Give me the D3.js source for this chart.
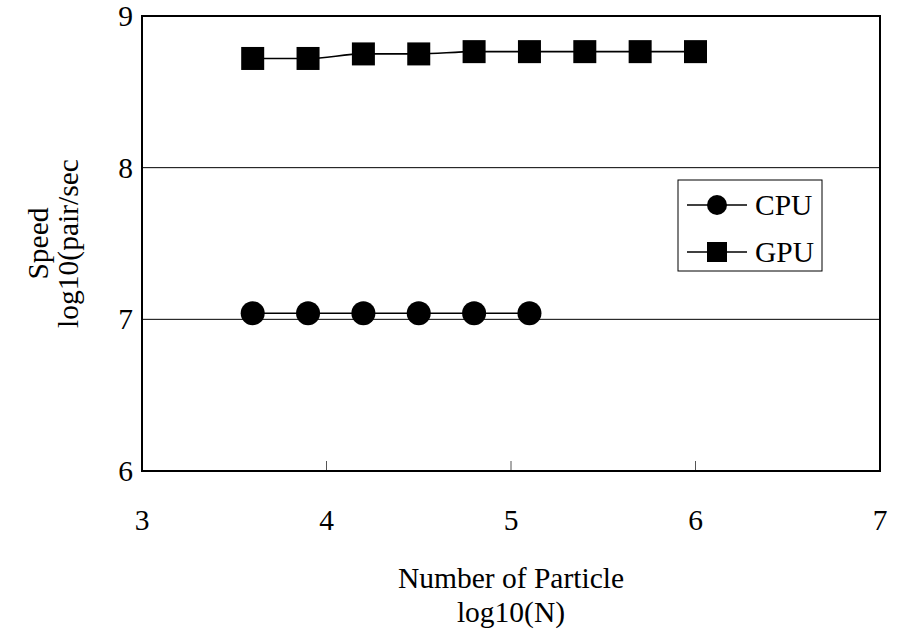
<!DOCTYPE html>
<html>
<head>
<meta charset="utf-8">
<script src="https://cdn.jsdelivr.net/npm/d3@7"></script>
<style>
  body { margin: 0; background: #fff; }
  svg { display: block; font-family: "Liberation Serif", "Times New Roman", serif; }
</style>
</head>
<body>
<svg id="chart" width="897" height="633"></svg>
<script>
// Data
const cpuX = [3.6, 3.9, 4.2, 4.5, 4.8, 5.1];
const cpuY = [7.04, 7.04, 7.04, 7.04, 7.04, 7.04];
const gpuX = [3.6, 3.9, 4.2, 4.5, 4.8, 5.1, 5.4, 5.7, 6.0];
const gpuY = [8.72, 8.72, 8.75, 8.75, 8.765, 8.765, 8.765, 8.765, 8.765];
const xTicks = [3, 4, 5, 6, 7];
const yTicks = [6, 7, 8, 9];
const seriesNames = ['CPU', 'GPU'];

const svg = d3.select('#chart');
const margin = { top: 16, right: 17, bottom: 162, left: 142 };
const width = 897 - margin.left - margin.right;
const height = 633 - margin.top - margin.bottom;
const fs = '29.5px';

const g = svg.append('g').attr('transform', `translate(${margin.left},${margin.top})`);

const x = d3.scaleLinear().domain([3, 7]).range([0, width]);
const y = d3.scaleLinear().domain([6, 9]).range([height, 0]);

// Gridlines
g.selectAll('.grid').data(yTicks.filter(t => t > 6 && t < 9))
  .join('line')
  .attr('x1', 0).attr('x2', width)
  .attr('y1', d => y(d)).attr('y2', d => y(d))
  .attr('stroke', '#000').attr('stroke-width', 1);

// x tick marks (inside)
g.selectAll('.xtick').data(xTicks.filter(t => t > 3 && t < 7))
  .join('line')
  .attr('x1', d => x(d)).attr('x2', d => x(d))
  .attr('y1', height).attr('y2', height - 10)
  .attr('stroke', '#555').attr('stroke-width', 1);

// Frame
g.append('rect')
  .attr('x', 0).attr('y', 0).attr('width', width).attr('height', height)
  .attr('fill', 'none').attr('stroke', '#000').attr('stroke-width', 2);

// Tick labels
g.selectAll('.xlab').data(xTicks)
  .join('text')
  .attr('x', d => x(d)).attr('y', height + 59)
  .attr('text-anchor', 'middle')
  .attr('font-size', fs)
  .text(d => d);

g.selectAll('.ylab').data(yTicks)
  .join('text')
  .attr('x', -9).attr('y', d => y(d) + 10)
  .attr('text-anchor', 'end')
  .attr('font-size', fs)
  .text(d => d);

// Axis titles
const xt = g.append('text')
  .attr('text-anchor', 'middle')
  .attr('font-size', fs)
  .attr('transform', `translate(${width / 2},${height + 117})`);
xt.append('tspan').attr('x', 0).attr('dy', 0).text('Number of Particle');
xt.append('tspan').attr('x', 0).attr('dy', 34).text('log10(N)');

const yt = g.append('text')
  .attr('text-anchor', 'middle')
  .attr('font-size', fs)
  .attr('transform', `translate(-94,${height / 2}) rotate(-90)`);
yt.append('tspan').attr('x', 0).attr('dy', 0).text('Speed');
yt.append('tspan').attr('x', 0).attr('dy', 30).text('log10(pair/sec');

// Lines
const line = d3.line().x(d => x(d[0])).y(d => y(d[1])).curve(d3.curveMonotoneX);
const cpu = cpuX.map((v, i) => [v, cpuY[i]]);
const gpu = gpuX.map((v, i) => [v, gpuY[i]]);

g.append('path').datum(cpu).attr('d', line)
  .attr('fill', 'none').attr('stroke', '#000').attr('stroke-width', 1.6);
g.append('path').datum(gpu).attr('d', line)
  .attr('fill', 'none').attr('stroke', '#000').attr('stroke-width', 1.6);

const ms = 23;
g.selectAll('.cpu-pt').data(cpu)
  .join('circle')
  .attr('cx', d => x(d[0])).attr('cy', d => y(d[1]))
  .attr('r', 12).attr('fill', '#000');

g.selectAll('.gpu-pt').data(gpu)
  .join('rect')
  .attr('x', d => x(d[0]) - ms / 2).attr('y', d => y(d[1]) - ms / 2)
  .attr('width', ms).attr('height', ms).attr('fill', '#000');

// Legend
const lg = svg.append('g').attr('transform', 'translate(678,180)');
lg.append('rect').attr('width', 144).attr('height', 91)
  .attr('fill', '#fff').attr('stroke', '#000').attr('stroke-width', 1);
seriesNames.forEach((name, i) => {
  const cy = 25 + i * 47;
  lg.append('line').attr('x1', 9).attr('x2', 69).attr('y1', cy).attr('y2', cy)
    .attr('stroke', '#000').attr('stroke-width', 1.6);
  if (i === 0) {
    lg.append('circle').attr('cx', 39).attr('cy', cy).attr('r', 10).attr('fill', '#000');
  } else {
    lg.append('rect').attr('x', 29).attr('y', cy - 10).attr('width', 20).attr('height', 20).attr('fill', '#000');
  }
  lg.append('text').attr('x', 77).attr('y', cy + 10)
    .attr('font-size', fs).text(name);
});
</script>
</body>
</html>
